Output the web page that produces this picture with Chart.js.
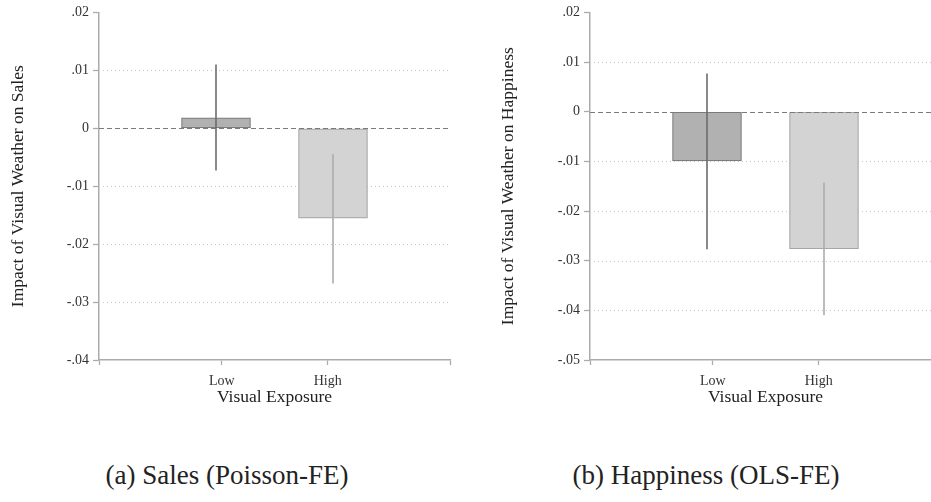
<!DOCTYPE html>
<html>
<head>
<meta charset="utf-8">
<script src="https://cdn.jsdelivr.net/npm/chart.js@4.4.1/dist/chart.umd.min.js"></script>
<style>
  html, body { margin:0; padding:0; background:#fff; width:931px; height:502px; overflow:hidden; }
  canvas { position:absolute; top:0; }
  #salesChart { left:0; }
  #happyChart { left:465px; }
  .cap { position:absolute; top:459px; transform:translateX(-50%); white-space:nowrap;
         font-family:"Liberation Serif", serif; font-size:27px; line-height:32px; color:#222; }
</style>
</head>
<body>
<canvas id="salesChart" width="465" height="420"></canvas>
<canvas id="happyChart" width="490" height="420"></canvas>
<div class="cap" style="left:227px">(a) Sales (Poisson-FE)</div>
<div class="cap" style="left:706px">(b) Happiness (OLS-FE)</div>
<script>
// categories sit at x = 1, 2 on a 0..3 axis
const categories = ["Low", "High"];
const barPos = [1, 2];
const catTickPos = [0, 1.05, 1.955, 3];
const catTickLabels = ["", "Low", "High", ""];

const salesCoef = [0.0018, -0.0155];
const salesLo = [-0.0073, -0.0268];
const salesHi = [0.0110, -0.0045];
const salesTicks = [0.02, 0.01, 0, -0.01, -0.02, -0.03, -0.04];

const happyCoef = [-0.0099, -0.0276];
const happyLo = [-0.0277, -0.0410];
const happyHi = [0.0077, -0.0143];
const happyTicks = [0.02, 0.01, 0, -0.01, -0.02, -0.03, -0.04, -0.05];

const barFill = ["#b1b1b1", "#d3d3d3"];
const barEdge = ["#7c7c7c", "#a6a6a6"];
const ciColor = ["#6c6c6c", "#acacac"];
const axisColor = "#ababab";
const serif = "'Liberation Serif', serif";

function fmtTick(v){
  if (Math.abs(v) < 1e-9) return "0";
  return (v < 0 ? "-" : "") + Math.abs(v).toFixed(2).replace(/^0/, "");
}

const refLines = {
  id:"refLines",
  beforeDatasetsDraw(chart){
    const {ctx, chartArea:a, scales:{y}} = chart;
    const ticks = chart.options.plugins.refLines.ticks;
    ctx.save();
    ctx.strokeStyle = "#c8c8c8";
    ctx.lineWidth = 1;
    ctx.setLineDash([1, 3]);
    ticks.forEach((v, i) => {
      if (i === 0 || i === ticks.length - 1 || v === 0) return;
      const py = Math.round(y.getPixelForValue(v)) + 0.5;
      ctx.beginPath(); ctx.moveTo(a.left + 4, py); ctx.lineTo(a.right - 2, py); ctx.stroke();
    });
    ctx.restore();
  },
  afterDatasetsDraw(chart){
    const {ctx, chartArea:a, scales:{x, y}} = chart;
    const o = chart.options.plugins.refLines;
    ctx.save();
    const py0 = Math.round(y.getPixelForValue(0)) + 0.5;
    ctx.strokeStyle = "#7a7a7a";
    ctx.lineWidth = 1.2;
    ctx.setLineDash([5, 3]);
    ctx.beginPath(); ctx.moveTo(a.left, py0); ctx.lineTo(a.right, py0); ctx.stroke();
    ctx.setLineDash([]);
    ctx.lineWidth = 1.6;
    barPos.forEach((p, i) => {
      const px = x.getPixelForValue(p);
      ctx.strokeStyle = ciColor[i];
      ctx.beginPath();
      ctx.moveTo(px, y.getPixelForValue(o.hi[i]));
      ctx.lineTo(px, y.getPixelForValue(o.lo[i]));
      ctx.stroke();
    });
    ctx.restore();
  }
};

function makeChart(id, coef, lo, hi, yTicks, yTitle, padLeft, padRight, yWidth){
  return new Chart(document.getElementById(id), {
    type:"bar",
    data:{
      datasets:[{
        data: barPos.map((p, i) => ({x:p, y:coef[i]})),
        backgroundColor: barFill,
        borderColor: barEdge,
        borderWidth: 1.2,
        borderSkipped: false,
        barThickness: 69
      }]
    },
    options:{
      responsive:false,
      animation:false,
      devicePixelRatio:1,
      layout:{ padding:{ left:padLeft, right:padRight, top:10, bottom:0 } },
      plugins:{
        legend:{ display:false },
        tooltip:{ enabled:false },
        refLines:{ ticks:yTicks, lo:lo, hi:hi }
      },
      scales:{
        x:{
          type:"linear", min:0, max:3, offset:false,
          afterBuildTicks: s => { s.ticks = catTickPos.map(v => ({value:v})); },
          afterFit: s => { s.height = 60; },
          ticks:{
            autoSkip:false, maxRotation:0, padding:8, color:"#333",
            font:{ family:serif, size:14 },
            callback:(v, i) => catTickLabels[i]
          },
          grid:{ offset:false, drawOnChartArea:false, tickLength:5, tickColor:axisColor, tickWidth:1.3 },
          border:{ color:axisColor, width:1.5 },
          title:{ display:true, text:"Visual Exposure", color:"#222",
                  font:{ family:serif, size:17.5 }, padding:{ top:0, bottom:12 } }
        },
        y:{
          min:yTicks[yTicks.length - 1], max:yTicks[0],
          afterBuildTicks: s => { s.ticks = yTicks.map(v => ({value:v})); },
          afterFit: s => { s.width = yWidth; },
          ticks:{ padding:4, color:"#333", font:{ family:serif, size:14 }, callback:v => fmtTick(v) },
          grid:{ drawOnChartArea:false, tickLength:6, tickColor:axisColor, tickWidth:1.3 },
          border:{ color:axisColor, width:1.5 },
          title:{ display:true, text:yTitle, color:"#222",
                  font:{ family:serif, size:17.5 }, padding:{ top:8, bottom:0 } }
        }
      }
    },
    plugins:[refLines]
  });
}

makeChart("salesChart", salesCoef, salesLo, salesHi, salesTicks,
  "Impact of Visual Weather on Sales", 0, 15, 99);
makeChart("happyChart", happyCoef, happyLo, happyHi, happyTicks,
  "Impact of Visual Weather on Happiness", 25, 14, 100);
</script>
</body>
</html>
